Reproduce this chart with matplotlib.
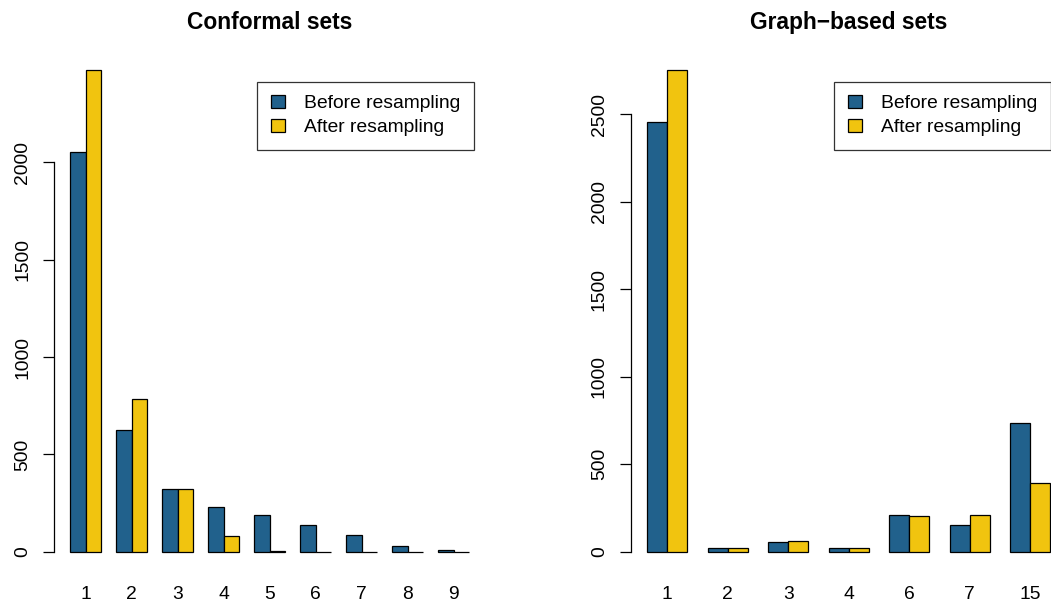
import matplotlib
matplotlib.use("Agg")
import matplotlib.pyplot as plt
import matplotlib.transforms as mtransforms
from matplotlib.patches import Patch
import numpy as np

plt.rcParams['font.family'] = ['Liberation Sans', 'DejaVu Sans']

# ---- data ----
conf_labels = ["1", "2", "3", "4", "5", "6", "7", "8", "9"]
conf_before = [2053, 624, 320, 230, 188, 135, 85, 28, 8]
conf_after = [2476, 787, 323, 80, 5, 1, 0, 1, 1]

graph_labels = ["1", "2", "3", "4", "6", "7", "15"]
graph_before = [2457, 19, 57, 23, 211, 154, 737]
graph_after = [2754, 19, 59, 23, 202, 208, 393]

series_names = ["Before resampling", "After resampling"]
colors = ["#21618C", "#F1C40F"]

conf_yticks = [0, 500, 1000, 1500, 2000]
graph_yticks = [0, 500, 1000, 1500, 2000, 2500]

W, H = 1051, 607
fig = plt.figure(figsize=(W / 100, H / 100), dpi=100)

FS = 13.9


def panel(rect, labels, before, after, yticks, title, legend_corner):
    ax = fig.add_axes(rect)
    n = len(labels)
    idx = np.arange(n)
    left_b = 1 + 3 * idx
    left_a = 2 + 3 * idx
    ax.bar(left_b, before, width=1, align='edge', color=colors[0],
           edgecolor='black', linewidth=0.9)
    ax.bar(left_a, after, width=1, align='edge', color=colors[1],
           edgecolor='black', linewidth=0.9)
    xmin, xmax = 1, 3 * n
    pad = 0.04 * (xmax - xmin)
    ax.set_xlim(xmin - pad, xmax + pad)
    M = max(max(before), max(after))
    ax.set_ylim(-0.04 * M, 1.04 * M)
    for s in ['top', 'right', 'bottom']:
        ax.spines[s].set_visible(False)
    ax.spines['left'].set_bounds(yticks[0], yticks[-1])
    ax.spines['left'].set_linewidth(0.9)
    ax.set_yticks(yticks)
    ax.set_yticklabels([str(t) for t in yticks], rotation=90, va='center',
                       fontsize=FS)
    ax.tick_params(axis='y', length=8, width=0.9, pad=8.5)
    ax.set_xticks(2 + 3 * idx)
    ax.set_xticklabels(labels, fontsize=FS)
    ax.tick_params(axis='x', length=0, pad=11)
    tr = mtransforms.blended_transform_factory(ax.transAxes, fig.transFigure)
    ax.text(0.5, 1 - 22.5 / H, title, transform=tr, ha='center', va='center',
            fontsize=16.4, fontweight='bold')
    handles = [Patch(facecolor=colors[0], edgecolor='black', linewidth=0.9),
               Patch(facecolor=colors[1], edgecolor='black', linewidth=0.9)]
    leg = ax.legend(handles, series_names, loc='upper right',
                    bbox_to_anchor=legend_corner,
                    bbox_transform=fig.transFigure, fontsize=FS,
                    frameon=True, fancybox=False, shadow=False,
                    handlelength=0.75, handleheight=0.62,
                    handletextpad=0.95, labelspacing=0.36,
                    borderpad=0.7, borderaxespad=0)
    leg.get_frame().set_edgecolor('black')
    leg.get_frame().set_linewidth(0.9)
    return ax


def rect(x0, x1, y0, y1):
    return [x0 / W, 1 - y1 / H, (x1 - x0) / W, (y1 - y0) / H]


ax1 = panel(rect(54.4, 484.9, 50.4, 571), conf_labels, conf_before, conf_after,
            conf_yticks, "Conformal sets", (473.5 / W, 1 - 81.5 / H))
ax2 = panel(rect(630.9, 1066.5, 50.4, 571), graph_labels, graph_before,
            graph_after, graph_yticks, "Graph\u2212based sets",
            (1050.5 / W, 1 - 81.5 / H))

fig.savefig("out.png", dpi=100)
